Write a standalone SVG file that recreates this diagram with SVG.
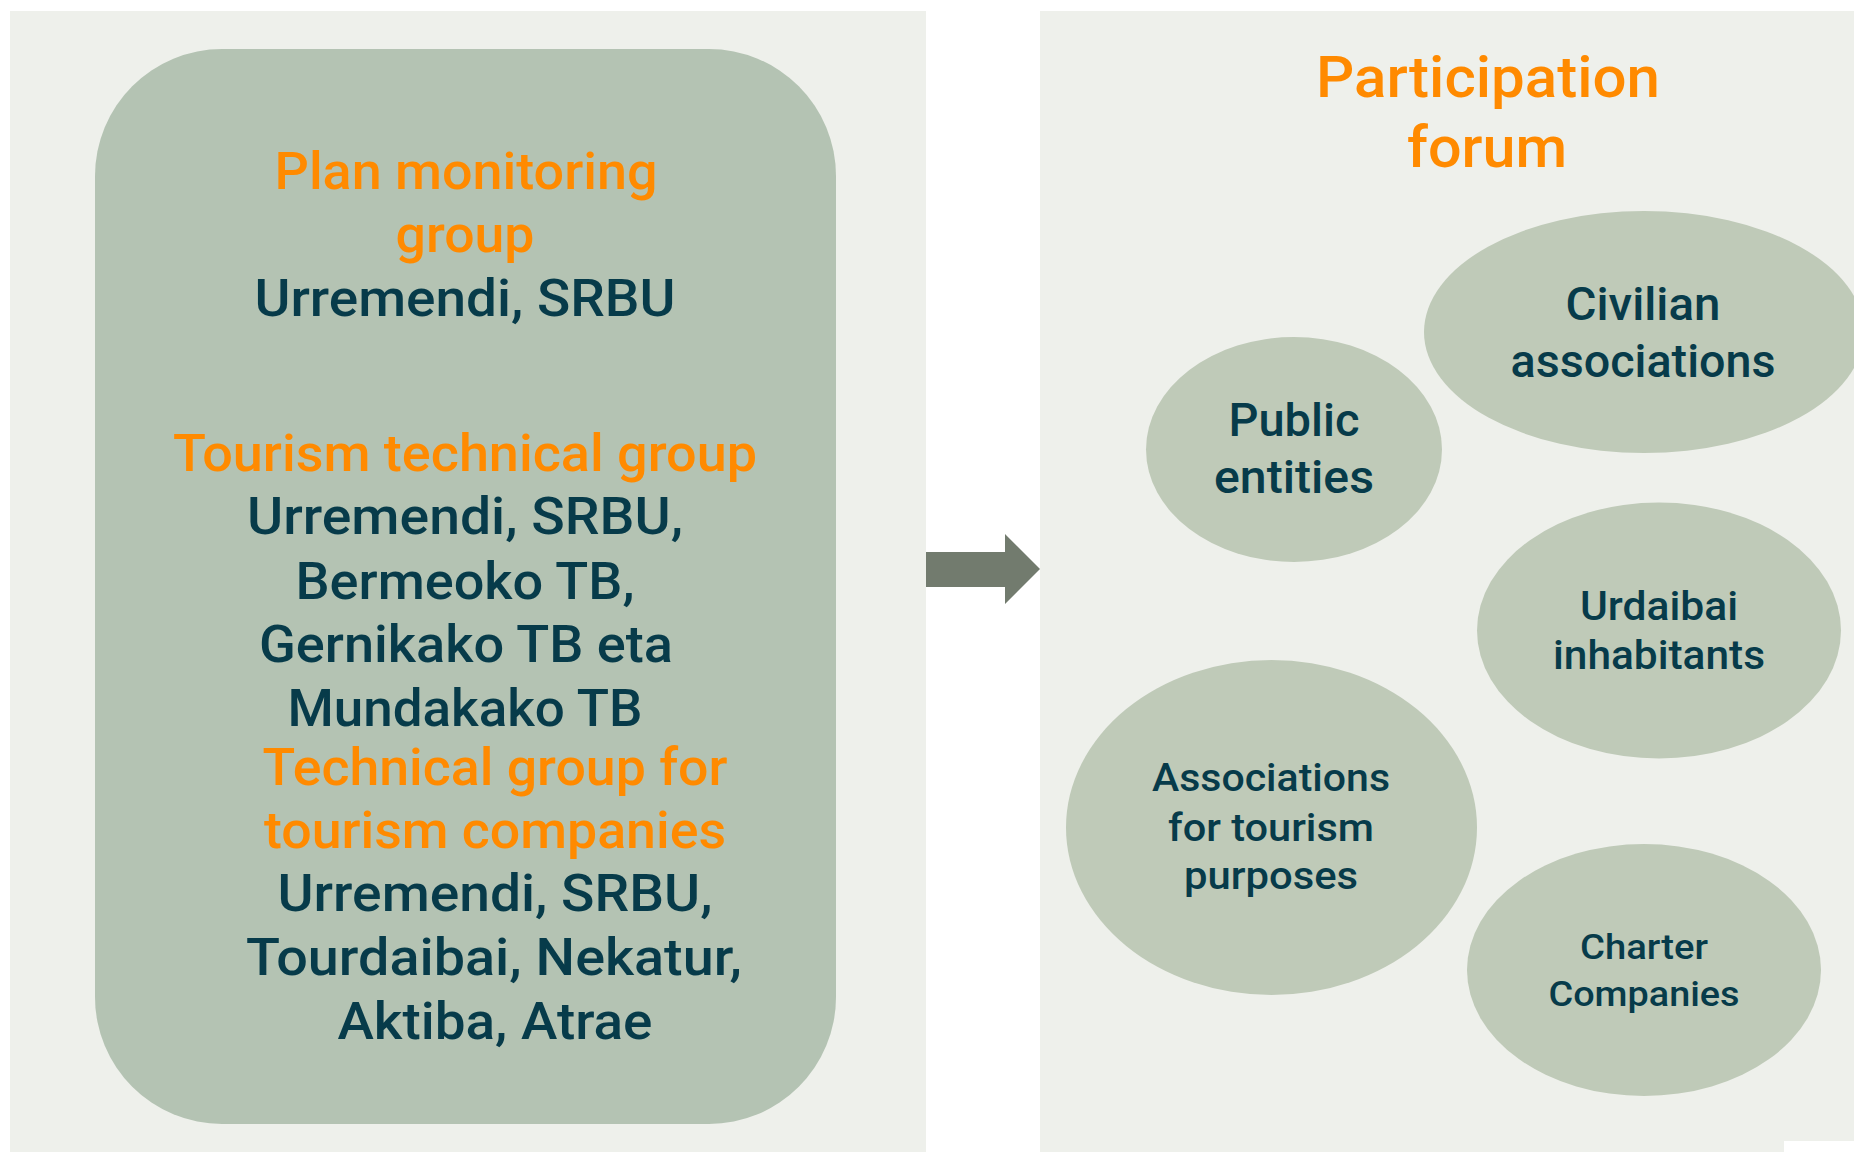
<svg xmlns="http://www.w3.org/2000/svg" width="1854" height="1152" viewBox="0 0 1854 1152">
  <style>
    text { font-family: Roboto, "Open Sans", "Liberation Sans", sans-serif; font-weight: 500; text-anchor: middle; }
    .head { fill: #FF8A00; }
    .body { fill: #073B4A; }
    .panel { fill: #EEF0EB; }
    .bubble { fill: #BFCAB8; }
  </style>

  <rect width="1854" height="1152" fill="#FFFFFF"/>

  <!-- background panels -->
  <rect class="panel" x="10" y="11" width="916" height="1141"/>
  <rect class="panel" x="1040" y="11" width="814" height="1141"/>
  <rect x="1784" y="1141" width="70" height="11" fill="#FFFFFF"/>

  <!-- working groups box -->
  <g id="working-groups">
    <rect x="95" y="49" width="741" height="1075" rx="127" ry="127" fill="#B4C3B3"/>
    <text class="head" x="466" y="189" font-size="52" textLength="383" lengthAdjust="spacingAndGlyphs">Plan monitoring</text>
    <text class="head" x="465" y="252" font-size="52" textLength="139" lengthAdjust="spacingAndGlyphs">group</text>
    <text class="body" x="465" y="316" font-size="52" textLength="421" lengthAdjust="spacingAndGlyphs">Urremendi, SRBU</text>

    <text class="head" x="465" y="471" font-size="52" textLength="584" lengthAdjust="spacingAndGlyphs">Tourism technical group</text>
    <text class="body" x="465" y="534" font-size="52" textLength="436" lengthAdjust="spacingAndGlyphs">Urremendi, SRBU,</text>
    <text class="body" x="465" y="599" font-size="52" textLength="339" lengthAdjust="spacingAndGlyphs">Bermeoko TB,</text>
    <text class="body" x="466" y="662" font-size="52" textLength="414" lengthAdjust="spacingAndGlyphs">Gernikako TB eta</text>
    <text class="body" x="465" y="726" font-size="52" textLength="355" lengthAdjust="spacingAndGlyphs">Mundakako TB</text>

    <text class="head" x="495" y="785" font-size="52" textLength="465" lengthAdjust="spacingAndGlyphs">Technical group for</text>
    <text class="head" x="495" y="848" font-size="52" textLength="462" lengthAdjust="spacingAndGlyphs">tourism companies</text>
    <text class="body" x="495" y="911" font-size="52" textLength="435" lengthAdjust="spacingAndGlyphs">Urremendi, SRBU,</text>
    <text class="body" x="494" y="975" font-size="52" textLength="496" lengthAdjust="spacingAndGlyphs">Tourdaibai, Nekatur,</text>
    <text class="body" x="495" y="1039" font-size="52" textLength="315" lengthAdjust="spacingAndGlyphs">Aktiba, Atrae</text>
  </g>

  <!-- connector -->
  <g id="connectors">
    <polygon points="926,552 1005,552 1005,534 1040,569 1005,604 1005,587 926,587" fill="#727B6E"/>
  </g>

  <!-- participation forum -->
  <g id="participation-forum">
    <text class="head" x="1488" y="97" font-size="58" textLength="344" lengthAdjust="spacingAndGlyphs">Participation</text>
    <text class="head" x="1487" y="167" font-size="58" textLength="160" lengthAdjust="spacingAndGlyphs">forum</text>
  </g>

  <g id="civilian-associations">
    <ellipse class="bubble" cx="1644" cy="332" rx="220" ry="121"/>
    <text class="body" x="1643" y="320" font-size="46" textLength="155" lengthAdjust="spacingAndGlyphs">Civilian</text>
    <text class="body" x="1643" y="377" font-size="46" textLength="265" lengthAdjust="spacingAndGlyphs">associations</text>
  </g>

  <g id="public-entities">
    <ellipse class="bubble" cx="1294" cy="449.5" rx="148" ry="112.5"/>
    <text class="body" x="1294" y="436" font-size="46" textLength="131" lengthAdjust="spacingAndGlyphs">Public</text>
    <text class="body" x="1294" y="493" font-size="46" textLength="160" lengthAdjust="spacingAndGlyphs">entities</text>
  </g>

  <g id="urdaibai-inhabitants">
    <ellipse class="bubble" cx="1659" cy="630.5" rx="182" ry="128"/>
    <text class="body" x="1659" y="620" font-size="40" textLength="158" lengthAdjust="spacingAndGlyphs">Urdaibai</text>
    <text class="body" x="1659" y="669" font-size="40" textLength="212" lengthAdjust="spacingAndGlyphs">inhabitants</text>
  </g>

  <g id="tourism-associations">
    <ellipse class="bubble" cx="1271.5" cy="827.5" rx="205.5" ry="167.5"/>
    <text class="body" x="1271" y="791" font-size="39" textLength="238" lengthAdjust="spacingAndGlyphs">Associations</text>
    <text class="body" x="1271" y="841" font-size="39" textLength="206" lengthAdjust="spacingAndGlyphs">for tourism</text>
    <text class="body" x="1271" y="889" font-size="39" textLength="174" lengthAdjust="spacingAndGlyphs">purposes</text>
  </g>

  <g id="charter-companies">
    <ellipse class="bubble" cx="1644" cy="970" rx="177" ry="126"/>
    <text class="body" x="1644" y="959" font-size="35" textLength="128" lengthAdjust="spacingAndGlyphs">Charter</text>
    <text class="body" x="1644" y="1006" font-size="35" textLength="191" lengthAdjust="spacingAndGlyphs">Companies</text>
  </g>
</svg>
